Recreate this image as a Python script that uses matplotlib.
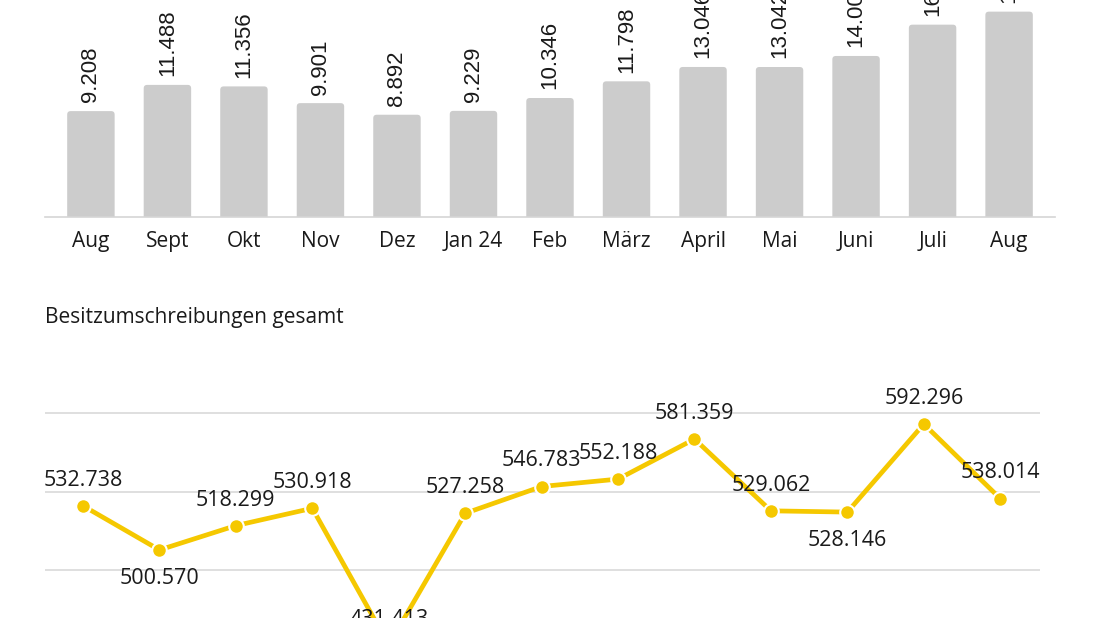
import matplotlib
matplotlib.use("Agg")
import matplotlib.pyplot as plt
from matplotlib.patches import FancyBboxPatch

plt.rcParams['font.family'] = ['Open Sans', 'DejaVu Sans']

# ---- data ----
months = ["Aug", "Sept", "Okt", "Nov", "Dez", "Jan 24", "Feb", "März",
          "April", "Mai", "Juni", "Juli", "Aug"]
neuzulassungen = [9208, 11488, 11356, 9901, 8892, 9229, 10346, 11798,
                  13046, 13042, 14003, 16725, 17857]
bar_labels = ["9.208", "11.488", "11.356", "9.901", "8.892", "9.229", "10.346",
              "11.798", "13.046", "13.042", "14.003", "16.725", "17.857"]

besitz = [532.738, 500.570, 518.299, 530.918, 431.413, 527.258, 546.783,
          552.188, 581.359, 529.062, 528.146, 592.296, 538.014]
besitz_labels = ["532.738", "500.570", "518.299", "530.918", "431.413", "527.258",
                 "546.783", "552.188", "581.359", "529.062", "528.146", "592.296",
                 "538.014"]
label_below = [False, True, False, False, False, False, False,
               False, False, False, True, False, False]
grid_vals = [600, 543, 486, 429]

W, H = 1100, 618
TXT = "#1a1a1a"
fig = plt.figure(figsize=(11, 6.18), dpi=100)

# ---- bar chart (top, clipped at the figure edge) ----
ax1 = fig.add_axes([45 / W, (H - 217) / H, 1010 / W, 230 / H])
bw = 0.62
# y units per x unit, so the rounded corners come out circular
aspect = (20000 / 230) / (13.2 / 1010)
for i, v in enumerate(neuzulassungen):
    p = FancyBboxPatch((i - bw / 2, -800), bw, v + 800,
                       boxstyle="round,pad=0,rounding_size=0.045",
                       mutation_aspect=aspect, fc="#cccccc", ec="none", zorder=2)
    ax1.add_patch(p)
    ax1.text(i, v + 750, bar_labels[i], rotation=90, ha="center", va="bottom",
             fontsize=16, color=TXT, family=["Liberation Sans", "DejaVu Sans"])
ax1.set_xlim(-0.6, len(months) - 0.4)
ax1.set_ylim(0, 20000)
ax1.set_xticks(range(len(months)))
ax1.set_xticklabels(months, fontsize=15, color=TXT)
ax1.tick_params(axis="x", length=0, pad=10)
ax1.set_yticks([])
for s in ["top", "right", "left"]:
    ax1.spines[s].set_visible(False)
ax1.spines["bottom"].set_color("#d5d5d5")
ax1.spines["bottom"].set_linewidth(1.2)
ax1.spines["bottom"].set_zorder(3)

# ---- title of the lower chart ----
fig.text(45 / W, (H - 318) / H, "Besitzumschreibungen gesamt", fontsize=15,
         ha="left", va="center", color=TXT)

# ---- line chart (bottom, clipped at the figure edge) ----
ax2 = fig.add_axes([45 / W, (H - 688) / H, 995 / W, 302 / H])
ax2.plot(range(len(besitz)), besitz, color="#f5c800", lw=3.4, marker="o",
         markersize=10.5, markeredgecolor="white", markeredgewidth=1.5,
         zorder=3, clip_on=False)
for i, v in enumerate(besitz):
    if label_below[i]:
        ax2.text(i, v - 13, besitz_labels[i], ha="center", va="top",
                 fontsize=15.5, color=TXT, zorder=4)
    else:
        ax2.text(i, v + 11, besitz_labels[i], ha="center", va="bottom",
                 fontsize=15.5, color=TXT, zorder=4)
ax2.set_xlim(-0.497, len(besitz) - 0.48)
ax2.set_ylim(400, 620)
ax2.set_yticks(grid_vals)
ax2.yaxis.grid(True, color="#d9d9d9", lw=1.2, zorder=0)
ax2.tick_params(axis="y", length=0, labelleft=False)
ax2.set_xticks([])
for s in ax2.spines.values():
    s.set_visible(False)

fig.savefig("out.png", dpi=100)
